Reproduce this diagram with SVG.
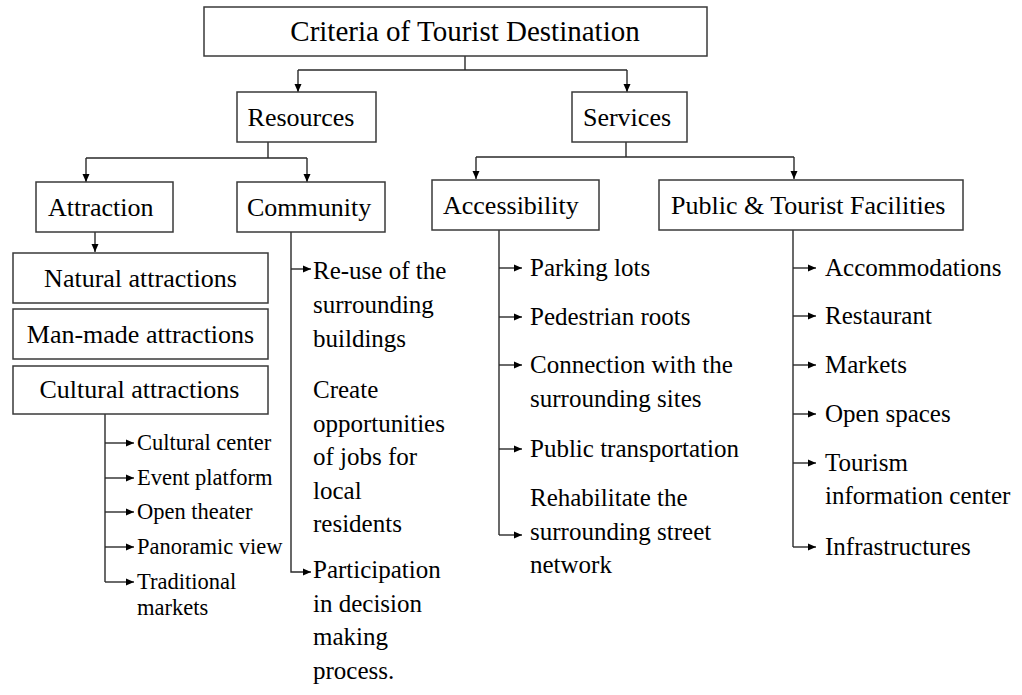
<svg xmlns="http://www.w3.org/2000/svg" width="1022" height="695" viewBox="0 0 1022 695">
<style>
  .box{fill:#fff;stroke:#3a3a3a;stroke-width:1.5}
  .t{font-family:"Liberation Serif","Times New Roman",serif;fill:#000}
  .title{font-size:29px}
  .lbl{font-size:26px}
  .item{font-size:25px}
  .small{font-size:22.5px}
  .conn path{fill:none;stroke:#2a2a2a;stroke-width:1.4}
  .arr{marker-end:url(#ah)}
</style>
<defs>
  <marker id="ah" markerUnits="userSpaceOnUse" markerWidth="10" markerHeight="10" refX="8" refY="5" orient="auto">
    <path d="M0,1.5 L8,5 L0,8.5 Z" fill="#000"/>
  </marker>
</defs>
<rect width="1022" height="695" fill="#fff"/>

<g class="conn">
  <path d="M465,56 V70 M298,70 H627"/>
  <path class="arr" d="M298,70 V92"/>
  <path class="arr" d="M627,70 V92"/>
  <path d="M268,142 V158 M86,158 H307"/>
  <path class="arr" d="M86,158 V182"/>
  <path class="arr" d="M307,158 V182"/>
  <path d="M626,142 V157 M476,157 H794"/>
  <path class="arr" d="M476,157 V179"/>
  <path class="arr" d="M794,157 V179"/>
  <path class="arr" d="M95,232 V252"/>
  <path class="arr" d="M291,232 V572 H311"/>
  <path class="arr" d="M291,269 H311"/>
  <path d="M105,414 V582"/>
  <path class="arr" d="M105,443 H134"/>
  <path class="arr" d="M105,478 H134"/>
  <path class="arr" d="M105,512 H134"/>
  <path class="arr" d="M105,547 H134"/>
  <path class="arr" d="M105,582 H134"/>
  <path d="M499,229 V535"/>
  <path class="arr" d="M499,268 H522"/>
  <path class="arr" d="M499,317 H522"/>
  <path class="arr" d="M499,365 H522"/>
  <path class="arr" d="M499,449 H522"/>
  <path class="arr" d="M499,535 H522"/>
  <path d="M793,229 V547"/>
  <path class="arr" d="M793,268 H816"/>
  <path class="arr" d="M793,316 H816"/>
  <path class="arr" d="M793,365 H816"/>
  <path class="arr" d="M793,414 H816"/>
  <path class="arr" d="M793,463 H816"/>
  <path class="arr" d="M793,547 H816"/>
</g>

<g id="title">
  <rect class="box" x="204" y="7" width="503" height="49"/>
  <text class="t title" x="465" y="41" text-anchor="middle">Criteria of Tourist Destination</text>
</g>
<g id="resources">
  <rect class="box" x="237" y="92" width="139" height="50"/>
  <text class="t lbl" x="301" y="126" text-anchor="middle">Resources</text>
</g>
<g id="services">
  <rect class="box" x="572" y="92" width="115" height="50"/>
  <text class="t lbl" x="627" y="126" text-anchor="middle">Services</text>
</g>
<g id="attraction">
  <rect class="box" x="36" y="182" width="137" height="50"/>
  <text class="t lbl" x="48" y="216">Attraction</text>
</g>
<g id="community">
  <rect class="box" x="237" y="182" width="148" height="50"/>
  <text class="t lbl" x="247" y="216">Community</text>
</g>
<g id="accessibility">
  <rect class="box" x="432" y="180" width="167" height="50"/>
  <text class="t lbl" x="443" y="214">Accessibility</text>
</g>
<g id="facilities">
  <rect class="box" x="659" y="180" width="304" height="50"/>
  <text class="t lbl" x="671" y="214">Public &amp; Tourist Facilities</text>
</g>
<g id="natural">
  <rect class="box" x="13" y="253" width="255" height="50"/>
  <text class="t lbl" x="140.5" y="287" text-anchor="middle">Natural attractions</text>
</g>
<g id="manmade">
  <rect class="box" x="13" y="309" width="255" height="50"/>
  <text class="t lbl" x="140.5" y="343" text-anchor="middle">Man-made attractions</text>
</g>
<g id="cultural">
  <rect class="box" x="13" y="366" width="255" height="48"/>
  <text class="t lbl" x="139.5" y="398" text-anchor="middle">Cultural attractions</text>
</g>

<g id="cultural-items" class="t small">
  <text x="137" y="450">Cultural center</text>
  <text x="137" y="485">Event platform</text>
  <text x="137" y="519">Open theater</text>
  <text x="137" y="554">Panoramic view</text>
  <text x="137" y="589">Traditional</text>
  <text x="137" y="615">markets</text>
</g>

<g id="community-items" class="t item">
  <text x="313" y="279">Re-use of the</text>
  <text x="313" y="313">surrounding</text>
  <text x="313" y="347">buildings</text>
  <text x="313" y="398">Create</text>
  <text x="313" y="431.5">opportunities</text>
  <text x="313" y="465">of jobs for</text>
  <text x="313" y="498.5">local</text>
  <text x="313" y="532">residents</text>
  <text x="313" y="578">Participation</text>
  <text x="313" y="612">in decision</text>
  <text x="313" y="645">making</text>
  <text x="313" y="679">process.</text>
</g>

<g id="accessibility-items" class="t item">
  <text x="530" y="276">Parking lots</text>
  <text x="530" y="325">Pedestrian roots</text>
  <text x="530" y="373">Connection with the</text>
  <text x="530" y="407">surrounding sites</text>
  <text x="530" y="457">Public transportation</text>
  <text x="530" y="506">Rehabilitate the</text>
  <text x="530" y="540">surrounding street</text>
  <text x="530" y="573">network</text>
</g>

<g id="facilities-items" class="t item">
  <text x="825" y="276">Accommodations</text>
  <text x="825" y="324">Restaurant</text>
  <text x="825" y="373">Markets</text>
  <text x="825" y="422">Open spaces</text>
  <text x="825" y="471">Tourism</text>
  <text x="825" y="504">information center</text>
  <text x="825" y="555">Infrastructures</text>
</g>
</svg>
